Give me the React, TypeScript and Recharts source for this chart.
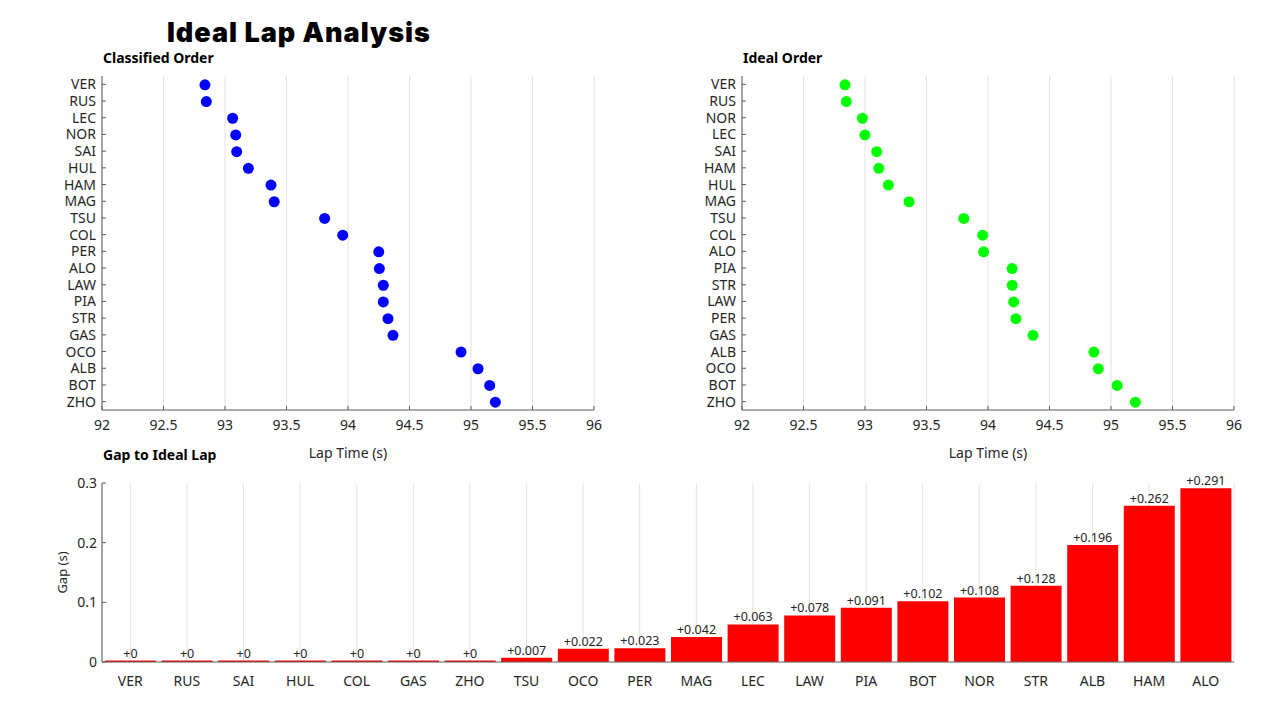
import { ScatterChart, Scatter, BarChart, Bar, XAxis, YAxis, CartesianGrid, LabelList, Label } from 'recharts';

const classifiedDrivers = ['VER', 'RUS', 'LEC', 'NOR', 'SAI', 'HUL', 'HAM', 'MAG', 'TSU', 'COL', 'PER', 'ALO', 'LAW', 'PIA', 'STR', 'GAS', 'OCO', 'ALB', 'BOT', 'ZHO'];
const classifiedTimes = [92.837, 92.848, 93.062, 93.087, 93.095, 93.19, 93.374, 93.4, 93.81, 93.957, 94.25, 94.255, 94.287, 94.287, 94.325, 94.366, 94.919, 95.057, 95.152, 95.198];

const idealDrivers = ['VER', 'RUS', 'NOR', 'LEC', 'SAI', 'HAM', 'HUL', 'MAG', 'TSU', 'COL', 'ALO', 'PIA', 'STR', 'LAW', 'PER', 'GAS', 'ALB', 'OCO', 'BOT', 'ZHO'];
const idealTimes = [92.837, 92.848, 92.979, 92.999, 93.095, 93.112, 93.19, 93.358, 93.803, 93.957, 93.964, 94.196, 94.197, 94.209, 94.227, 94.366, 94.861, 94.897, 95.05, 95.198];

const gapDrivers = ['VER', 'RUS', 'SAI', 'HUL', 'COL', 'GAS', 'ZHO', 'TSU', 'OCO', 'PER', 'MAG', 'LEC', 'LAW', 'PIA', 'BOT', 'NOR', 'STR', 'ALB', 'HAM', 'ALO'];
const gapValues = [0, 0, 0, 0, 0, 0, 0, 0.007, 0.022, 0.023, 0.042, 0.063, 0.078, 0.091, 0.102, 0.108, 0.128, 0.196, 0.262, 0.291];

const lapTicks = [92, 92.5, 93, 93.5, 94, 94.5, 95, 95.5, 96];
const gapTicks = [0, 0.1, 0.2, 0.3];

const FONT = '"Noto Sans", sans-serif';
const AXIS = '#5a5a5a';
const GRID = '#e3e3e3';
const TEXT = '#262626';

const tickStyle = { fill: TEXT, fontSize: 14, fontFamily: FONT };

const classifiedData = classifiedDrivers.map((d, i) => ({ driver: d, time: classifiedTimes[i] }));
const idealData = idealDrivers.map((d, i) => ({ driver: d, time: idealTimes[i] }));
const gapData = gapDrivers.map((d, i) => ({ driver: d, gap: gapValues[i] }));

function LapScatter({ data, color }: { data: { driver: string; time: number }[]; color: string }) {
    return (
        <ScatterChart width={640} height={470} margin={{ top: 76, right: 46, left: 40, bottom: 8 }}>
            <CartesianGrid horizontal={false} stroke={GRID} />
            <XAxis
                type="number"
                dataKey="time"
                domain={[92, 96]}
                ticks={lapTicks}
                stroke={AXIS}
                tickSize={-4}
                tickMargin={14}
                tick={tickStyle}
                height={52}
            >
                <Label value="Lap Time (s)" position="insideBottom" offset={4} style={{ fill: TEXT, fontSize: 14, fontFamily: FONT }} />
            </XAxis>
            <YAxis
                type="category"
                dataKey="driver"
                reversed
                width={62}
                stroke={AXIS}
                tickSize={-4}
                tickMargin={10}
                tick={tickStyle}
                interval={0}
                allowDuplicatedCategory={false}
            />
            <Scatter
                data={data}
                isAnimationActive={false}
                shape={(p: any) => <circle cx={p.cx} cy={p.cy + 0.5} r={5.5} fill={color} />}
            />
        </ScatterChart>
    );
}

export default function App() {
    return (
        <div style={{ position: 'absolute', left: 0, top: 0, width: 1280, height: 720, background: '#fff', fontFamily: FONT, color: '#000' }}>
            <div style={{ position: 'absolute', left: 167, top: 16, fontFamily: 'Inter, sans-serif', fontWeight: 900, fontSize: 27, letterSpacing: 1 }}>
                Ideal Lap Analysis
            </div>
            <div style={{ position: 'absolute', left: 103, top: 48, fontWeight: 700, fontSize: 14 }}>Classified Order</div>
            <div style={{ position: 'absolute', left: 743, top: 48, fontWeight: 700, fontSize: 14 }}>Ideal Order</div>
            <div style={{ position: 'absolute', left: 103, top: 445, fontWeight: 700, fontSize: 14 }}>Gap to Ideal Lap</div>

            <div style={{ position: 'absolute', left: 0, top: 0 }}>
                <LapScatter data={classifiedData} color="#0000FF" />
            </div>
            <div style={{ position: 'absolute', left: 640, top: 0 }}>
                <LapScatter data={idealData} color="#00FF00" />
            </div>

            <div style={{ position: 'absolute', left: 0, top: 470 }}>
                <BarChart width={1280} height={250} data={gapData} margin={{ top: 13, right: 46, left: 40, bottom: 24 }}>
                    <CartesianGrid horizontal={false} stroke={GRID} />
                    <XAxis
                        dataKey="driver"
                        stroke={AXIS}
                        tickLine={false}
                        tickMargin={8}
                        tick={tickStyle}
                        interval={0}
                        height={34}
                    />
                    <YAxis
                        domain={[0, 0.3]}
                        ticks={gapTicks}
                        width={62}
                        stroke={AXIS}
                        tickSize={-4}
                        tickMargin={9}
                        tick={tickStyle}
                    >
                        <Label value="Gap (s)" angle={-90} position="insideLeft" offset={22} style={{ fill: TEXT, fontSize: 13, fontFamily: FONT, textAnchor: 'middle' }} />
                    </YAxis>
                    <Bar dataKey="gap" fill="#FF0000" barSize={51} minPointSize={1.5} isAnimationActive={false}>
                        <LabelList dataKey="gap" position="top" offset={3} formatter={(v: any) => `+${v}`} style={{ fill: TEXT, fontSize: 12.5, fontFamily: FONT }} />
                    </Bar>
                </BarChart>
            </div>
        </div>
    );
}
